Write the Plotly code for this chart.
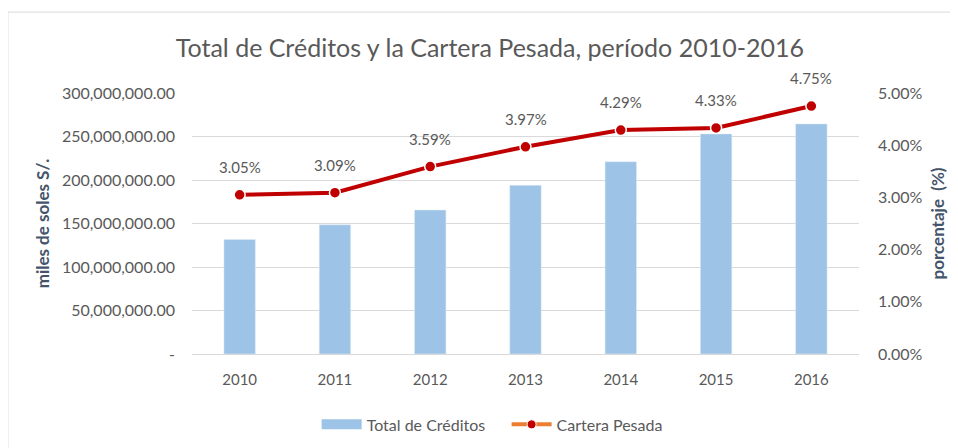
import plotly.graph_objects as go

years = ["2010", "2011", "2012", "2013", "2014", "2015", "2016"]
total_creditos = [131500000, 148500000, 165500000, 194000000, 221000000, 253000000, 264500000]
cartera_pesada = [3.05, 3.09, 3.59, 3.97, 4.29, 4.33, 4.75]

y_ticks = [0, 50000000, 100000000, 150000000, 200000000, 250000000, 300000000]
y_ticktext = ["-", "50,000,000.00", "100,000,000.00", "150,000,000.00",
              "200,000,000.00", "250,000,000.00", "300,000,000.00"]
y2_ticks = [0, 1, 2, 3, 4, 5]
y2_ticktext = ["0.00%", "1.00%", "2.00%", "3.00%", "4.00%", "5.00%"]

FONT = "Lato"
GREY = "#595959"
TITLE_GREY = "#44546A"
BAR_BLUE = "#9DC3E6"

fig = go.Figure()

fig.add_trace(go.Bar(
    x=years,
    y=total_creditos,
    name="Total de Créditos",
    marker_color=BAR_BLUE,
    width=0.33,
    showlegend=False,
))

fig.add_trace(go.Scatter(
    x=years,
    y=cartera_pesada,
    yaxis="y2",
    mode="lines+markers",
    line=dict(color="#C00000", width=4),
    marker=dict(color="#C00000", size=11, line=dict(color="white", width=1.5)),
    showlegend=False,
))

# legend entries drawn the way the original shows them
fig.add_trace(go.Scatter(
    x=[None],
    y=[None],
    mode="lines",
    name="Total de Créditos" + "\u00a0" * 4,
    line=dict(color=BAR_BLUE, width=12),
))
fig.add_trace(go.Scatter(
    x=[None],
    y=[None],
    yaxis="y2",
    mode="lines+markers",
    name="Cartera Pesada",
    line=dict(color="#ED7D31", width=4),
    marker=dict(color="#C00000", size=9, line=dict(color="white", width=1)),
))

# value labels above the line (x given as category index)
for i, value in enumerate(cartera_pesada):
    fig.add_annotation(
        x=i, y=value, xref="x", yref="y2",
        text=f"{value:.2f}%",
        showarrow=False,
        yshift=28,
        font=dict(size=15, color=GREY, family=FONT),
    )

fig.update_layout(
    width=958,
    height=448,
    margin=dict(l=184, r=107, t=85, b=102, autoexpand=False),
    paper_bgcolor="white",
    plot_bgcolor="white",
    font=dict(family=FONT, color=GREY, size=14),
    title=dict(
        text="Total de Créditos y la Cartera Pesada, período 2010-2016",
        x=0.503, xref="container", xanchor="center",
        y=0.911, yanchor="middle",
        font=dict(size=25, color=GREY, family=FONT),
    ),
    xaxis=dict(
        type="category",
        range=[-0.5, len(years) - 0.5],
        showgrid=False,
        showline=True,
        linecolor="#D9D9D9",
        tickfont=dict(size=15, color=GREY),
        ticks="",
        ticklabelstandoff=12,
        automargin=False,
    ),
    yaxis=dict(
        range=[0, 300000000],
        tickvals=y_ticks,
        ticktext=y_ticktext,
        gridcolor="#D9D9D9",
        zeroline=False,
        tickfont=dict(size=16, color=GREY),
        ticklabelstandoff=16,
        automargin=False,
        title=dict(text="<b>miles de soles S/.</b>", font=dict(size=17, color=TITLE_GREY), standoff=7),
    ),
    yaxis2=dict(
        range=[0, 5],
        overlaying="y",
        side="right",
        tickvals=y2_ticks,
        ticktext=y2_ticktext,
        showgrid=False,
        zeroline=False,
        tickfont=dict(size=16, color=GREY),
        ticklabelstandoff=18,
        automargin=False,
        title=dict(text="<b>porcentaje  (%)</b>", font=dict(size=17, color=TITLE_GREY), standoff=10),
    ),
    legend=dict(
        orientation="h",
        x=0.45, xanchor="center",
        y=-0.27, yanchor="middle",
        itemwidth=40,
        font=dict(size=16, color=GREY),
    ),
    shapes=[dict(
        type="rect", xref="paper", yref="paper",
        x0=-0.276, x1=1.3, y0=-0.6, y1=1.31,
        line=dict(color="#D9D9D9", width=1),
        layer="below",
    )],
)

fig.write_html("out.html")
